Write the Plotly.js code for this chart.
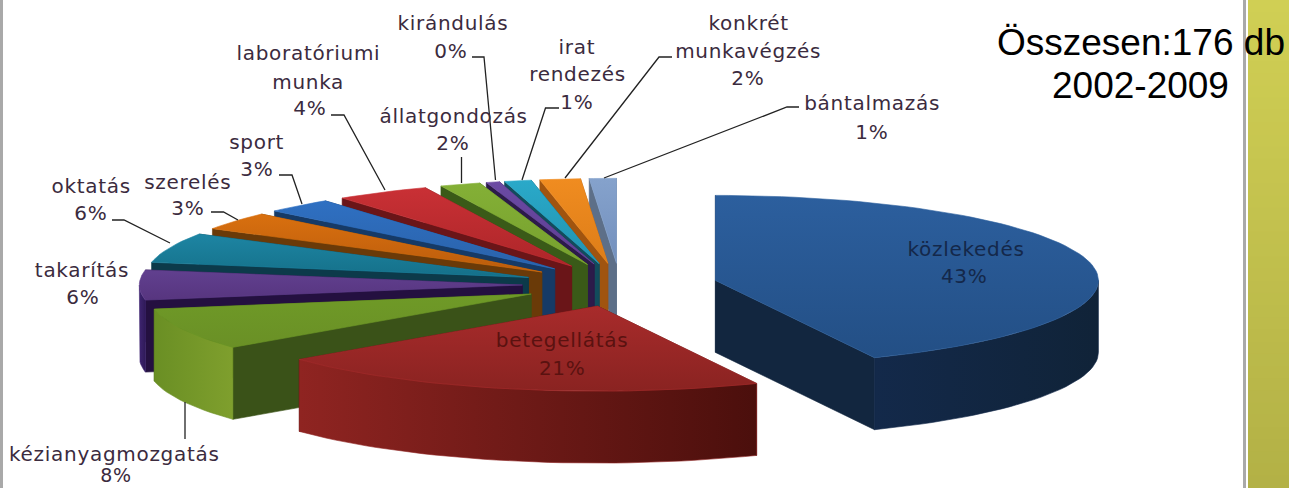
<!DOCTYPE html>
<html><head><meta charset="utf-8">
<script src="https://cdn.plot.ly/plotly-3.0.1.min.js"></script>
<style>html,body{margin:0;padding:0;background:#fff;overflow:hidden}#c{width:1289px;height:488px}
.annotation text[style*="DejaVu"]{letter-spacing:.7px}</style>
</head><body><div id="c"></div>
<script>
// Data (estimated counts out of 176, with the printed percentages)
const categories = ["közlekedés","betegellátás","kézianyagmozgatás","takarítás","oktatás","szerelés","sport","laboratóriumi munka","állatgondozás","kirándulás","irat rendezés","konkrét munkavégzés","bántalmazás"];
const counts = [76,37,14,10,10,6,5,7,3,1,2,3,2];
const percents = ["43%","21%","8%","6%","6%","3%","3%","4%","2%","0%","1%","2%","1%"];

// Styles: top face (back, front), outer wall (left, right), radial wall
const topColors = [["#2c5f9e","#234f85"],["#a82b2b","#8a2321"],["#6f9a27","#6a9026"],["#61408f","#57357f"],["#1d85a3","#157089"],["#d9700f","#bb5c0c"],["#2f70c2","#2a62aa"],["#c93035","#ad2629"],["#84b036","#76a02e"],["#6b4aa3","#5d3e92"],["#2aa9c9","#2193b0"],["#f08c20","#dd7d18"],["#85a2cc","#7390bd"]];
const arcColors = [["#13294a","#102338"],["#8f2421","#4b0f0c"],["#6a8f24","#7f9f2d"],["#3e2470","#2f1a58"],["#0f4a5e","#0d3f50"],["#7a3f08","#6a3506"],["#1a3f6e","#173759"],["#6b1719","#5a1214"],["#40601a","#3a5518"],["#33214f","#2c1b45"],["#15525f","#124651"],["#7f4810","#723f0d"],["#4f6380","#465a76"]];
const radialColors = ["#12263f","#4e100d","#3a5218","#241040","#0c3a4a","#6a3a08","#163a66","#6a1518","#3a5a18","#2c1b4a","#124c5c","#a0540f","#5d6f88"];

const CX=620, CY=285, RX=383, RY=85, DEPTH=72, EXPLODE=0.255;
const total = counts.reduce((a,b)=>a+b,0);
const rad = d=>d*Math.PI/180;
const pt = (c,a,dz=0)=>[c[0]+RX*Math.sin(rad(a)), c[1]-RY*Math.cos(rad(a))+dz];

function poly(xy, fillcolor, grad){
  const t={type:'scatter',mode:'lines',x:xy.map(p=>p[0]),y:xy.map(p=>p[1]),fill:'toself',
    line:{width:0.6,color:fillcolor},hoverinfo:'skip',showlegend:false,fillcolor:fillcolor};
  if(grad) t.fillgradient=grad;
  return t;
}
const hGrad=(a,b)=>({type:'horizontal',colorscale:[[0,a],[1,b]]});
const vGrad=(a,b)=>({type:'vertical',colorscale:[[0,a],[1,b]]});
const sweep=(a0,a1)=>{const n=Math.max(6,Math.ceil((a1-a0)/2));const r=[];for(let k=0;k<=n;k++)r.push(a0+(a1-a0)*k/n);return r;};

let acc=0;
const slices=counts.map((v,i)=>{
  const a0=acc/total*360; acc+=v; const a1=acc/total*360; const m=(a0+a1)/2;
  const c=[CX+EXPLODE*RX*Math.sin(rad(m)), CY-EXPLODE*RY*Math.cos(rad(m))];
  return {i,a0,a1,c};
}).sort((p,q)=>p.c[1]-q.c[1]);

const traces=[];
slices.forEach(s=>{
  // radial walls, back one first
  const walls=[s.a0,s.a1].sort((p,q)=>pt(s.c,p)[1]-pt(s.c,q)[1]);
  walls.forEach(a=>{
    traces.push(poly([s.c,pt(s.c,a),pt(s.c,a,DEPTH),[s.c[0],s.c[1]+DEPTH],s.c],radialColors[s.i]));
  });
  // outer wall: only the part that faces the viewer (90 to 270 degrees)
  const w0=Math.max(s.a0,90), w1=Math.min(s.a1,270);
  if(w1>w0){
    const arc=sweep(w0,w1);
    const wall=arc.map(a=>pt(s.c,a)).concat(arc.slice().reverse().map(a=>pt(s.c,a,DEPTH)));
    wall.push(wall[0]);
    const ac=arcColors[s.i];
    traces.push(poly(wall,ac[0],hGrad(ac[0],ac[1])));
  }
  // top face
  const top=[s.c].concat(sweep(s.a0,s.a1).map(a=>pt(s.c,a)));top.push(s.c);
  const tc=topColors[s.i];
  traces.push(poly(top,tc[0],vGrad(tc[1],tc[0])));
});

// Text placement: one entry per printed line
const labelColor="#3b2b3e", labelFont="'DejaVu Sans',sans-serif", titleFont="'Liberation Sans',Arial,sans-serif";
const ann=(text,x,y,color,size,family)=>({text,x,y,xref:'x',yref:'y',showarrow:false,xanchor:'center',yanchor:'middle',
  font:{family:family||labelFont,size:size||20,color:color||labelColor}});
const annotations=[
  ann("közlekedés",966,249,"#14284a"),ann(percents[0],964,276,"#14284a"),
  ann("betegellátás",562,340,"#5a1210"),ann(percents[1],562,368,"#5a1210"),
  ann("kézianyagmozgatás",114,454),ann(percents[2],116,475,labelColor,19),
  ann("takarítás",82,270),ann(percents[3],83,297),
  ann("oktatás",91,186),ann(percents[4],91,213),
  ann("szerelés",188,182),ann(percents[5],188,208),
  ann("sport",257,142),ann(percents[6],257,169),
  ann("laboratóriumi",308,53),ann("munka",308,82),ann(percents[7],310,108),
  ann("állatgondozás",453,116),ann(percents[8],453,143),
  ann("kirándulás",453,23),ann(percents[9],451,51),
  ann("irat",577,47),ann("rendezés",577,74),ann(percents[10],577,102),
  ann("konkrét",748,23),ann("munkavégzés",748,51),ann(percents[11],748,78),
  ann("bántalmazás",872,103),ann(percents[12],872,132),
  ann("Összesen:176 db",1141,42,"#000",37,titleFont),
  ann("2002-2009",1140,85,"#000",37,titleFont)
];

// Leader lines
const leaders=[
  "M472,57L484,57L495.5,180","M331,115L344,115L385,190","M559,108L545.5,108L522,180",
  "M461.5,157L461.5,183","M279,175L292,175L302,204","M211,212L223.5,212L238,220",
  "M112,220L124,220L170,243","M185,402L185,439","M672,57L659,57L565,178","M799,107L787,107L604,178"
];
const shapes=leaders.map(p=>({type:'path',path:p,xref:'x',yref:'y',line:{color:"#222",width:1.3},layer:'above'}));

// Frame: grey left edge, grey rule and olive side panel
shapes.push({type:'rect',xref:'x',yref:'y',x0:0,x1:3,y0:0,y1:488,fillcolor:"#a9a9a9",line:{width:0},layer:'below'});
shapes.push({type:'rect',xref:'x',yref:'y',x0:1243,x1:1246,y0:0,y1:488,fillcolor:"#a9a9a9",line:{width:0},layer:'below'});
const bands=40, panelTop=[208,207,84], panelBot=[179,177,70];
for(let b=0;b<bands;b++){
  const f=b/(bands-1);
  const col=panelTop.map((c,k)=>Math.round(c+(panelBot[k]-c)*f));
  shapes.push({type:'rect',xref:'x',yref:'y',x0:1248,x1:1289,y0:488*b/bands,y1:488*(b+1)/bands+1,
    fillcolor:`rgb(${col.join(',')})`,line:{width:0},layer:'below'});
}

Plotly.newPlot('c',traces,{
  width:1289,height:488,margin:{l:0,r:0,t:0,b:0},showlegend:false,
  paper_bgcolor:'#fff',plot_bgcolor:'#fff',
  xaxis:{range:[0,1289],visible:false,fixedrange:true},
  yaxis:{range:[488,0],visible:false,fixedrange:true},
  annotations,shapes
},{displayModeBar:false,staticPlot:true});
</script></body></html>
